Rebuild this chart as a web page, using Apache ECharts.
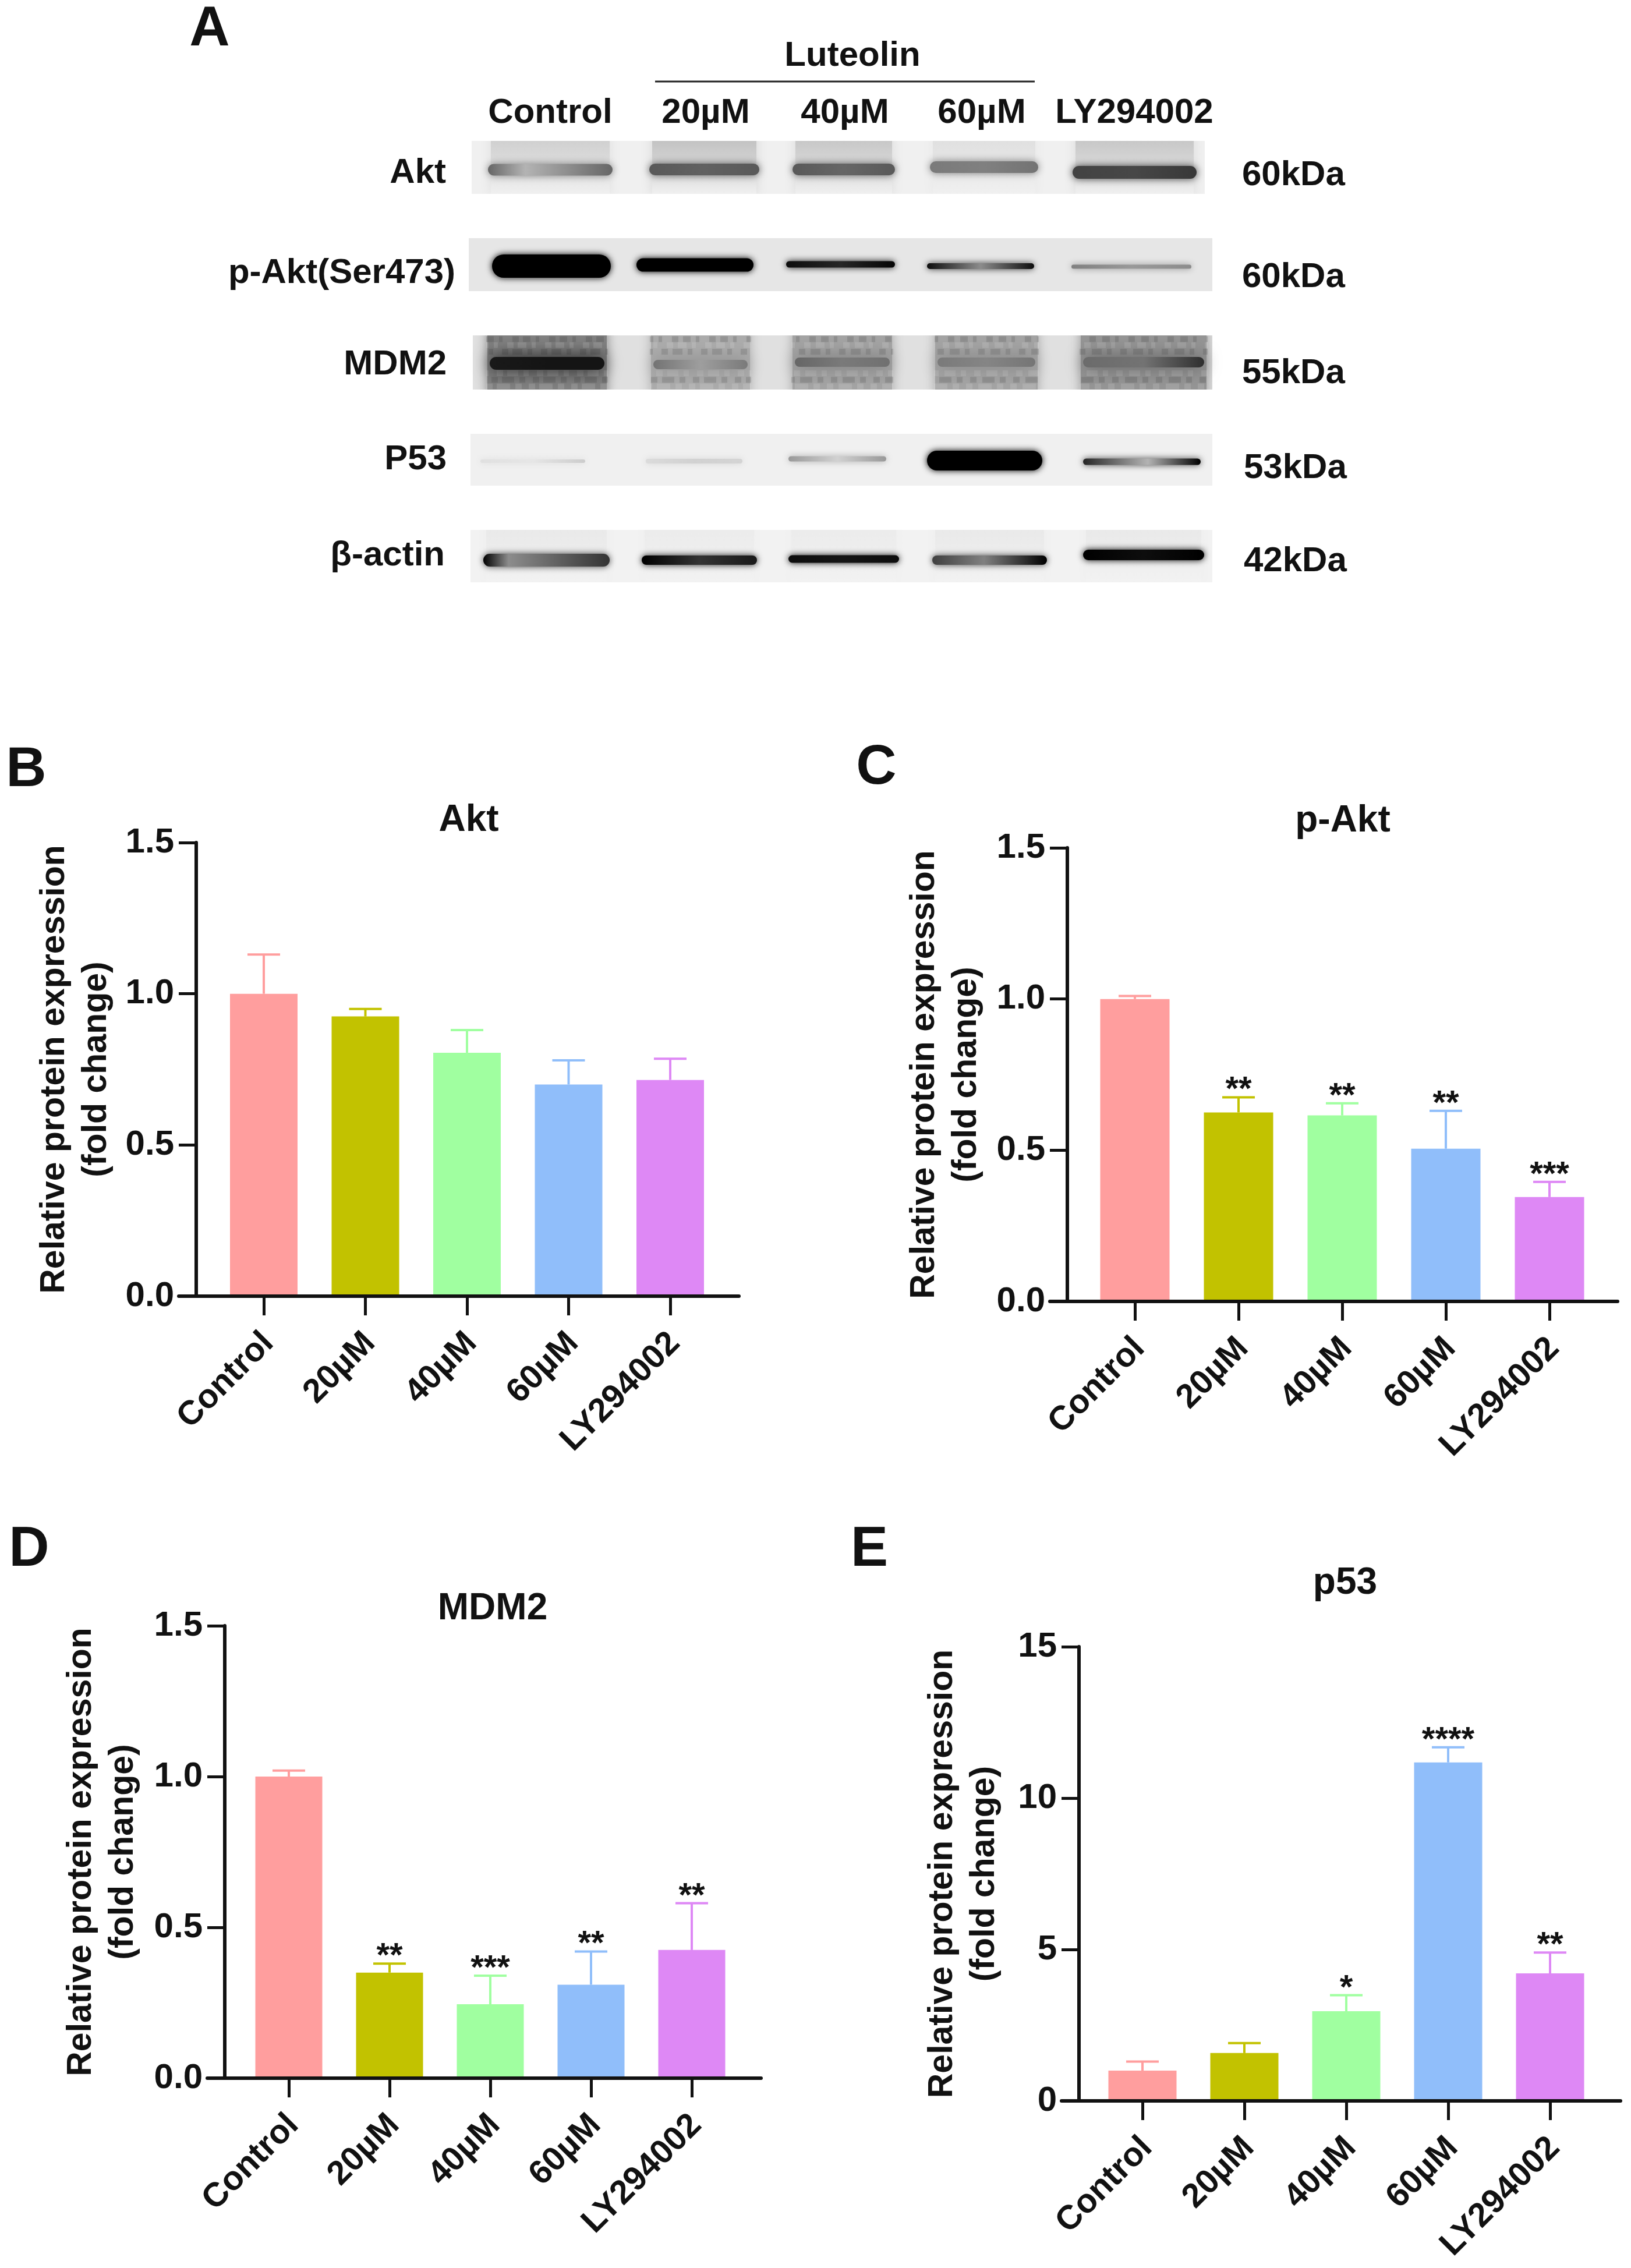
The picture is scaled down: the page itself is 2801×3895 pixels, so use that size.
<!DOCTYPE html>
<html><head><meta charset="utf-8">
<style>html,body{margin:0;padding:0;background:#fff}#c{width:2801px;height:3895px}</style>
<script src="https://cdn.jsdelivr.net/npm/echarts@6/dist/echarts.min.js"></script>
</head><body><div id="c"></div>
<script>
// ---------- chart data ----------
const categories = ['Control','20µM','40µM','60µM','LY294002'];
const barColors = ['#FF9E9E','#C2C200','#A0FFA0','#90BEFA','#DE88F5'];
const aktValues  = [1.0,0.925,0.805,0.70,0.715];
const aktTops    = [1.13,0.95,0.88,0.78,0.785];
const aktStars   = ['','','','',''];
const pAktValues = [1.0,0.625,0.615,0.505,0.345];
const pAktTops   = [1.01,0.675,0.655,0.63,0.395];
const pAktStars  = ['','**','**','**','***'];
const mdm2Values = [1.0,0.35,0.245,0.31,0.425];
const mdm2Tops   = [1.02,0.38,0.34,0.42,0.58];
const mdm2Stars  = ['','**','***','**','**'];
const p53Values  = [1.0,1.58,2.96,11.18,4.21];
const p53Tops    = [1.3,1.91,3.49,11.68,4.9];
const p53Stars   = ['','','*','****','**'];
const ticksFrac  = [0,0.5,1,1.5];
const ticksP53   = [0,5,10,15];

// western-blot band darkness per lane: [left, middle, right] 0..1
const blotRowNames = ['Akt','p-Akt(Ser473)','MDM2','P53','β-actin'];
const blotSizes    = ['60kDa','60kDa','55kDa','53kDa','42kDa'];
const blotLanes    = ['Control','20µM','40µM','60µM','LY294002'];
const aktInk  = [[.6,.3,.6],[.65,.62,.65],[.65,.6,.65],[.52,.5,.55],[.74,.72,.78]];
const pAktInk = [[1,1,1],[1,1,1],[.95,.85,.98],[.95,.45,.95],[.5,.4,.45]];
const mdm2Ink = [[.9,.92,.92],[.55,.38,.52],[.6,.52,.56],[.52,.48,.54],[.58,.55,.82]];
const p53Ink  = [[.12,.1,.2],[.14,.18,.17],[.4,.18,.4],[1,1,1],[.85,.3,1]];
const actinInk= [[1,.45,.8],[1,.8,.9],[.95,.92,.95],[.75,.5,1],[1,.95,1]];
const laneSmear = [[.2,.26,.24,.13,.24],[0,0,0,0,0],[.5,.33,.36,.36,.42],[0,0,0,0,0],[.09,.08,.08,.09,.09]];
const rowShade = [.06,.1,.12,.06,.05];

// ---------- layout ----------
const FONT = '"Liberation Sans", Arial, sans-serif';
const blotGeometry = {
  spans:[
    [[28,252],[305,504],[551,737],[787,983],[1032,1255]],
    [[35,249],[283,494],[540,737],[782,976],[1030,1246]],
    [[22,247],[303,493],[546,737],[791,987],[1041,1277]],
    [[15,205],[299,475],[544,722],[782,990],[1050,1262]],
    [[20,247],[292,500],[544,744],[791,998],[1050,1268]]],
  centre:[[86.5,86,86,82,91],[252,250,249,252,253],[419,421,417,417,417],[587,587,583,586,588],[757,757,755,757,748]],
  height:[[22,22,22,22,24],[42,25,13,12,9],[24,18,18,18,20],[8,10,11,36,13],[24,18,15,18,20]],
  waist:[[.3,.5,.5,.5,.5],[.5,.5,.5,.5,.5],[.5,.5,.5,.5,.5],[.5,.5,.5,.5,.55],[.2,.5,.5,.45,.5]],
  blur:[14,12,30,12,12],
  rowX:[[5,1264],[0,1277],[7,1277],[3,1277],[3,1277]],
  rowTop:[37,204,371,540,705], rowBottom:[128,295,464,629,795]
};
const blotInks = [aktInk,pAktInk,mdm2Ink,p53Ink,actinInk];
const panels = [
 {name:'Akt',  v:aktValues, t:aktTops, s:aktStars, ticks:ticksFrac, max:1.5, axisX:337, top:1447, bottom:2226, first:453, step:174.5, bw:116, right:1269, gap:135, titleX:800, titleY:1406},
 {name:'p-Akt',v:pAktValues,t:pAktTops,s:pAktStars,ticks:ticksFrac, max:1.5, axisX:1833,top:1456, bottom:2235, first:1949,step:178, bw:119, right:2778, gap:137, titleX:2301, titleY:1407},
 {name:'MDM2', v:mdm2Values,t:mdm2Tops,s:mdm2Stars,ticks:ticksFrac, max:1.5, axisX:386, top:2792, bottom:3569, first:496, step:173, bw:115, right:1307, gap:138, titleX:841, titleY:2760},
 {name:'p53',  v:p53Values, t:p53Tops, s:p53Stars, ticks:ticksP53,  max:15,  axisX:1853,top:2828, bottom:3608, first:1962,step:175, bw:117, right:2783, gap:126, titleX:2305, titleY:2716}
];
const letters = [['A',360,52],['B',45,1324],['C',1505,1320],['D',50,2663],['E',1493,2663]];
const blotText = [
 ['Luteolin',1464,96,'center'],
 ['Control',945,194,'center'],['20µM',1212,194,'center'],['40µM',1451,194,'center'],['60µM',1686,194,'center'],['LY294002',1948,194,'center'],
 ['Akt',766,297,'right'],['p-Akt(Ser473)',782,469,'right'],['MDM2',767,626,'right'],['P53',767,789,'right'],['β-actin',764,954,'right'],
 ['60kDa',2133,301,'left'],['60kDa',2133,476,'left'],['55kDa',2133,641,'left'],['53kDa',2136,804,'left'],['42kDa',2136,964,'left']
];

// ---------- option ----------
const grids=[],xAxes=[],yAxes=[],series=[],titles=[];
const gray = k => { const g=Math.round(255*(1-k)); return `rgb(${g},${g},${g})`; };

panels.forEach((p,i)=>{
  const gl = p.first - p.step/2;
  grids.push({left:gl, width:p.step*5, top:p.top, height:p.bottom-p.top});
  xAxes.push({gridIndex:i,type:'category',data:categories,z:6,
    axisLine:{show:false},
    axisTick:{show:true,alignWithLabel:true,length:33,lineStyle:{color:'#111',width:5}},
    axisLabel:{interval:0,rotate:45,margin:64,verticalAlign:'top',lineHeight:22,color:'#111',fontFamily:FONT,fontWeight:'bold',fontSize:58}
    });
  yAxes.push({gridIndex:i,type:'value',min:0,max:p.max,interval:p.ticks[1],offset:gl-p.axisX,z:6,
    splitLine:{show:false},
    axisLine:{show:true,lineStyle:{color:'#111',width:6}},
    axisTick:{show:true,length:30,lineStyle:{color:'#111',width:5}},
    axisLabel:{margin:38,color:'#111',fontFamily:FONT,fontWeight:'bold',fontSize:60,
      formatter:v=>p.max===15?String(v):v.toFixed(1)},
    name:'Relative protein expression\n(fold change)',nameLocation:'middle',nameRotate:90,nameGap:p.gap,
    nameTextStyle:{color:'#111',fontFamily:FONT,fontWeight:'bold',fontSize:59,lineHeight:72,align:'center'}});
  titles.push({text:p.name,left:p.titleX,top:p.titleY-34,textAlign:'center',
    textStyle:{color:'#111',fontFamily:FONT,fontWeight:'bold',fontSize:64}});
  series.push({type:'bar',xAxisIndex:i,yAxisIndex:i,barWidth:p.bw,animation:false,
    data:p.v.map((v,j)=>({value:v,itemStyle:{color:barColors[j]}}))});
  series.push({type:'custom',xAxisIndex:i,yAxisIndex:i,animation:false,clip:false,z:4,
    encode:{x:0,y:[1,2]},
    data:p.v.map((v,j)=>[j,v,p.t[j]]),
    renderItem:(params,api)=>{
      const j=api.value(0),a=api.coord([j,api.value(1)]),b=api.coord([j,api.value(2)]);
      const style={stroke:barColors[j],lineWidth:4,fill:null};
      const kids=[
        {type:'line',shape:{x1:a[0],y1:a[1],x2:b[0],y2:b[1]},style},
        {type:'line',shape:{x1:b[0]-28,y1:b[1],x2:b[0]+28,y2:b[1]},style}];
      if(p.s[j]) kids.push({type:'text',style:{text:p.s[j],x:b[0],y:b[1]+18,textAlign:'center',textVerticalAlign:'bottom',
        font:'bold 58px '+FONT,fill:'#111'}});
      return {type:'group',children:kids};
    }});
});
// x axis lines that overhang the category band, as in the original
panels.forEach((p,i)=>{
  const g=grids.length;
  grids.push({left:p.axisX-30,width:p.right-p.axisX+30,top:p.bottom-1,height:1});
  xAxes.push({gridIndex:g,type:'value',min:0,max:1,z:6,position:'bottom',splitLine:{show:false},axisTick:{show:false},axisLabel:{show:false},
    axisLine:{show:true,onZero:false,lineStyle:{color:'#111',width:6}}});
  yAxes.push({gridIndex:g,type:'value',min:0,max:1,show:false});
});
// western blot on its own gel grid
const gelIdx=grids.length;
grids.push({left:805,width:1279,top:205,height:840});
xAxes.push({gridIndex:gelIdx,type:'value',min:0,max:1279,show:false});
yAxes.push({gridIndex:gelIdx,type:'value',min:0,max:840,inverse:true,show:false});
series.push({type:'custom',xAxisIndex:gelIdx,yAxisIndex:gelIdx,animation:false,clip:false,z:1,
  data:blotRowNames.map((n,r)=>[r]),
  encode:{x:[],y:[]},
  renderItem:(params,api)=>{
    const r=api.value(0),g=blotGeometry;
    const a=api.coord([g.rowX[r][0],g.rowTop[r]]),b=api.coord([g.rowX[r][1],g.rowBottom[r]]);
    const box={x:a[0],y:a[1],width:b[0]-a[0],height:b[1]-a[1]};
    const kids=[{type:'rect',shape:box,style:{fill:gray(rowShade[r])}}];
    g.spans[r].forEach((sp,l)=>{
      const k=laneSmear[r][l];
      if(!k) return;
      const p0=api.coord([sp[0],g.rowTop[r]]),p1=api.coord([sp[1],g.rowBottom[r]]);
      const full = r===2;
      const bottomK = full ? k : rowShade[r];
      kids.push({type:'rect',shape:{x:p0[0]+10,y:p0[1]+(full?-14:-14),width:p1[0]-p0[0]-20,height:p1[1]-p0[1]+(full?28:14)},
        style:{fill:new echarts.graphic.LinearGradient(0,0,0,1,[{offset:0,color:gray(k)},{offset:.55,color:gray((k+bottomK)/2)},{offset:1,color:gray(bottomK)}]),
          shadowBlur:18,shadowColor:gray((k+bottomK)/2)}});
      // grainy texture of the MDM2 row, drawn as broken soft strokes
      if(full){
        [.07,.18,.3,.7,.82,.94].forEach((f,n)=>{
          const y=p0[1]+(p1[1]-p0[1])*f, dark=n%2===0;
          const c=dark?'rgba(50,50,50,.16)':'rgba(255,255,255,.12)';
          kids.push({type:'line',shape:{x1:p0[0]+8,y1:y,x2:p1[0]-8,y2:y},
            style:{stroke:c,lineWidth:10,lineDash:[13+n*2,9,6+n,17-n,11,7+l],lineDashOffset:n*11+l*7,shadowBlur:6,shadowColor:c}});
        });
      }
    });
    return {type:'group',clipPath:{type:'rect',shape:box},children:kids};
  }});
const bandData=[];
blotInks.forEach((row,r)=>row.forEach((ink,l)=>bandData.push([r,l,ink[0],ink[1],ink[2]])));
series.push({type:'custom',xAxisIndex:gelIdx,yAxisIndex:gelIdx,animation:false,clip:false,z:2,
  data:bandData,encode:{x:[],y:[]},
  renderItem:(params,api)=>{
    const r=api.value(0),l=api.value(1),g=blotGeometry,sp=g.spans[r][l],yc=g.centre[r][l],h=g.height[r][l];
    const inkL=api.value(2),inkM=api.value(3),inkR=api.value(4);
    const a=api.coord([sp[0],yc-h/2]),b=api.coord([sp[1],yc+h/2]);
    const avg=(inkL+inkM+inkR)/3, w=g.waist[r][l];
    const inset = r===2 ? 14 : 5;
    return {type:'rect',shape:{x:a[0]+inset,y:a[1]+1,width:b[0]-a[0]-inset*2,height:b[1]-a[1]-2,r:(b[1]-a[1])/2},
      style:{fill:new echarts.graphic.LinearGradient(0,0,1,0,[{offset:0,color:gray(inkL)},{offset:w,color:gray(inkM)},{offset:1,color:gray(inkR)}]),
        shadowBlur:g.blur[r],shadowColor:gray(avg)}};
  }});

const graphic=[];
letters.forEach(t=>graphic.push({type:'text',x:t[1],y:t[2],style:{text:t[0],font:`bold 96px ${FONT}`,fill:'#111',textAlign:'center',textVerticalAlign:'middle'}}));
blotText.forEach(t=>graphic.push({type:'text',x:t[1],y:t[2],style:{text:t[0],font:`bold 60px ${FONT}`,fill:'#111',textAlign:t[3],textVerticalAlign:'middle'}}));
graphic.push({type:'line',shape:{x1:1125,y1:140,x2:1777,y2:140},style:{stroke:'#222',lineWidth:3}});

const chart=echarts.init(document.getElementById('c'),null,{renderer:'canvas',width:2801,height:3895,devicePixelRatio:1});
chart.setOption({animation:false,backgroundColor:'#fff',title:titles,grid:grids,xAxis:xAxes,yAxis:yAxes,series,graphic});
</script></body></html>
